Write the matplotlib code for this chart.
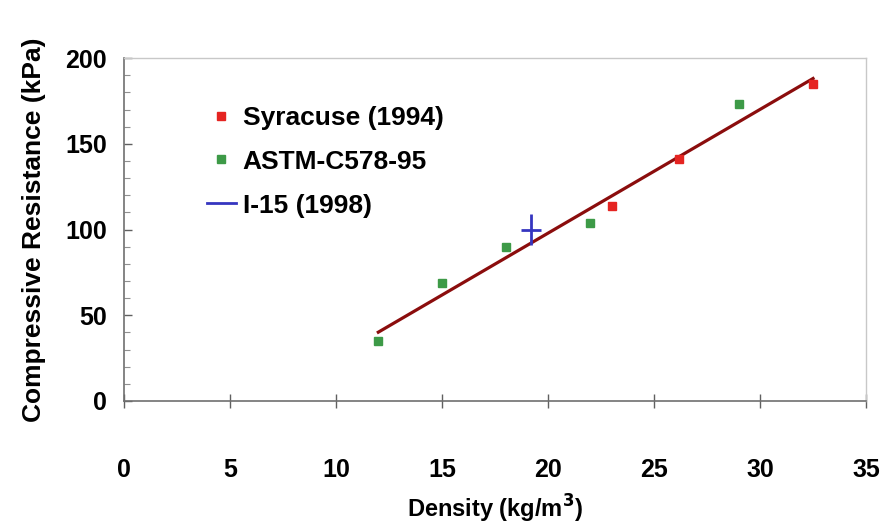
import numpy as np
import matplotlib
matplotlib.use("Agg")
import matplotlib.pyplot as plt
from matplotlib.lines import Line2D

plt.rcParams['font.family'] = ['Liberation Sans', 'DejaVu Sans']
plt.rcParams['font.weight'] = 'bold'

# data
syr_x = [23.0, 26.2, 32.5]
syr_y = [114, 141, 185]
astm_x = [12, 15, 18, 22, 29]
astm_y = [35, 69, 90, 104, 173]
i15_x = [19.2]
i15_y = [100]
i15_xerr = [0.45]
i15_yerr = [9]

fig = plt.figure(figsize=(8.91, 5.29), dpi=100)
ax = fig.add_axes([0.139, 0.242, 0.833, 0.648])

# linear trend through all points
all_x = np.array(syr_x + astm_x)
all_y = np.array(syr_y + astm_y)
k, b = np.polyfit(all_x, all_y, 1)
tx = np.array([min(all_x), max(all_x)])
ax.plot(tx, k * tx + b, color="#8b0d0d", lw=2.3, zorder=2)

ax.plot(syr_x, syr_y, "s", color="#e52421", ms=5.5, zorder=3)
ax.plot(astm_x, astm_y, "s", color="#3d9a47", ms=5.5, zorder=3)
ax.errorbar(i15_x, i15_y, xerr=i15_xerr, yerr=i15_yerr, fmt="none",
            ecolor="#3535c0", elinewidth=2, capsize=0, zorder=4)

ax.set_xlim(0, 35)
ax.set_ylim(0, 200)
ax.set_xticks(range(0, 36, 5))
ax.set_yticks(range(0, 201, 50))
ax.set_yticks(range(0, 201, 10), minor=True)
ax.tick_params(axis="x", direction="inout", length=10, width=1, color="#606060",
               labelsize=18, pad=36)
ax.tick_params(axis="y", which="major", direction="in", length=6, width=1,
               color="#606060", labelsize=18, pad=12)
ax.tick_params(axis="y", which="minor", direction="in", length=4, width=0.8,
               color="#909090")

for s in ["left", "bottom"]:
    ax.spines[s].set_color("#707070")
    ax.spines[s].set_linewidth(1.2)
for s in ["top", "right"]:
    ax.spines[s].set_color("#c8c8c8")
    ax.spines[s].set_linewidth(1)

ax.set_xlabel("Density (kg/m$^{\\mathbf{3}}$)", fontsize=17, fontweight="bold", labelpad=8)
ax.set_ylabel("Compressive Resistance (kPa)", fontsize=19, fontweight="bold", labelpad=14)

handles = [
    Line2D([], [], ls="none", marker="s", color="#e52421", ms=5.5),
    Line2D([], [], ls="none", marker="s", color="#3d9a47", ms=5.5),
    Line2D([], [], color="#3535c0", lw=2),
]
ax.legend(handles, ["Syracuse (1994)", "ASTM-C578-95", "I-15 (1998)"],
          loc="upper left", bbox_to_anchor=(0.08, 0.93), frameon=False,
          fontsize=19, handlelength=1.1, handletextpad=0.25, labelspacing=0.75)

fig.savefig("out.png", dpi=100)
